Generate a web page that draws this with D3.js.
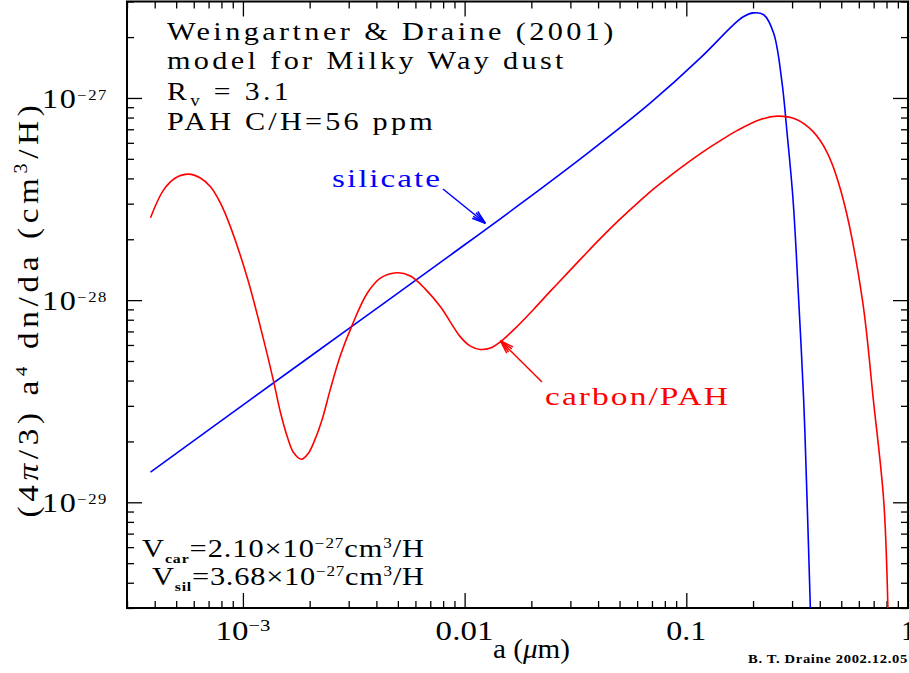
<!DOCTYPE html>
<html><head><meta charset="utf-8">
<script src="https://cdn.jsdelivr.net/npm/d3@7"></script>
<style>
body{margin:0;background:#fff}
svg{display:block}
text{font-family:"Liberation Serif","DejaVu Serif",serif}
</style>
</head><body>
<svg id="c" width="909" height="673"></svg>
<script>
// ---- data (grain radius a in micron, (4pi/3) a^4 dn/da in cm^3/H) ----
const siliA = [3.83e-4, 1.081e-3, 3.055e-3, 8.63e-3, 1.785e-2, 3.69e-2, 6.89e-2, 0.1158, 0.1631, 0.1816, 0.2008, 0.2234, 0.2478, 0.2704, 0.2849, 0.3031, 0.3213, 0.3384, 0.3506, 0.3629];
const siliV = [1.41e-29, 3.22e-29, 7.33e-29, 1.670e-28, 2.99e-28, 5.46e-28, 9.45e-28, 1.578e-27, 2.30e-27, 2.53e-27, 2.635e-27, 2.58e-27, 2.09e-27, 1.183e-27, 6.68e-28, 3.13e-28, 1.0e-28, 3.20e-29, 1.02e-29, 2.92e-30];
const carbA = [3.83e-4, 4.38e-4, 4.96e-4, 5.68e-4, 6.43e-4, 7.14e-4, 7.92e-4, 8.78e-4, 1.044e-3, 1.241e-3, 1.377e-3, 1.476e-3, 1.588e-3, 1.689e-3, 1.836e-3, 1.974e-3, 2.123e-3, 2.284e-3, 2.48e-3, 2.754e-3, 3.11e-3, 3.63e-3, 4.17e-3, 4.96e-3, 5.69e-3, 6.65e-3, 7.78e-3, 9.57e-3, 1.062e-2, 1.178e-2, 1.307e-2, 1.450e-2, 1.695e-2, 2.05e-2, 2.438e-2, 2.909e-2, 3.436e-2, 4.10e-2, 4.94e-2, 6.02e-2, 7.10e-2, 8.48e-2, 0.1012, 0.1194, 0.1425, 0.170, 0.2159, 0.2576, 0.3106, 0.3706, 0.433, 0.511, 0.623, 0.698, 0.777, 0.812];
const carbV = [2.555e-28, 3.50e-28, 4.02e-28, 4.20e-28, 4.02e-28, 3.64e-28, 3.02e-28, 2.31e-28, 1.30e-28, 6.34e-29, 3.94e-29, 2.79e-29, 2.10e-29, 1.768e-29, 1.633e-29, 1.748e-29, 2.07e-29, 2.60e-29, 3.63e-29, 5.34e-29, 7.52e-29, 1.079e-28, 1.285e-28, 1.365e-28, 1.315e-28, 1.134e-28, 9.27e-29, 6.58e-29, 5.92e-29, 5.70e-29, 5.79e-29, 6.22e-29, 7.27e-29, 9.02e-29, 1.108e-28, 1.36e-28, 1.651e-28, 2.02e-28, 2.472e-28, 3.02e-28, 3.543e-28, 4.13e-28, 4.776e-28, 5.43e-28, 6.15e-28, 6.91e-28, 7.82e-28, 8.13e-28, 7.87e-28, 6.87e-28, 5.34e-28, 3.13e-28, 1.0e-28, 3.20e-29, 1.02e-29, 2.92e-30];

const xMajor = [1e-3, 0.01, 0.1, 1];
const xTickLabels = [["10", "\u22123"], ["0.01", ""], ["0.1", ""], ["1", ""]];
const yMajor = [1e-27, 1e-28, 1e-29];
const yTickLabels = [["10", "\u221227"], ["10", "\u221228"], ["10", "\u221229"]];

const infoLines = ["Weingartner & Draine (2001)", "model for Milky Way dust", "R|V| = 3.1", "PAH C/H=56 ppm"];
const volCar = ["V", "car", "=2.10\u00d710", "\u221227", "cm", "3", "/H"];
const volSil = ["V", "sil", "=3.68\u00d710", "\u221227", "cm", "3", "/H"];

// ---- scales ----
const svg = d3.select("#c");
const L = 127, R = 908, T = 1.5, B = 608;
const x = d3.scaleLog().domain([3e-4, 1]).range([L, R]);
const y = d3.scaleLog().domain([3e-30, 3e-27]).range([B, T]);

svg.append("defs").append("clipPath").attr("id", "clip")
  .append("rect").attr("x", L).attr("y", T).attr("width", R - L).attr("height", B - T);

// ---- helpers ----
function rich(parent, px, py, parts, size) {
  const t = parent.append("text").attr("x", px).attr("y", py).attr("font-size", size);
  let cur = 0;
  parts.forEach(p => {
    const off = p.dy || 0;
    const s = t.append("tspan").text(p.t).attr("dy", off - cur);
    cur = off;
    if (p.size) s.attr("font-size", p.size);
    if (p.bold) s.attr("font-weight", "bold");
    if (p.italic) s.attr("font-style", "italic");
  });
  return t;
}
function fit(t, x0, w, maxS) {
  maxS = maxS || 1.22;
  let bw = t.node().getBBox().width;
  const n = Math.max(1, t.text().length - 1);
  if (w / bw > maxS) {
    t.attr("letter-spacing", ((w / maxS - bw) / n).toFixed(2));
    bw = t.node().getBBox().width;
  }
  const sx = w / bw;
  t.attr("transform", `translate(${x0},0) scale(${sx},1) translate(${-x0},0)`);
  return t;
}

// ---- axes (ticks inward on all four sides) ----
const minorX = x.ticks().filter(v => !xMajor.some(m => Math.abs(m - v) / m < 1e-6));
const minorY = y.ticks().filter(v => !yMajor.some(m => Math.abs(m - v) / m < 1e-6));
function axisG(gen, tr) {
  const g = svg.append("g").attr("transform", tr).call(gen);
  g.select(".domain").remove();
  g.selectAll("line").attr("stroke", "#000").attr("stroke-width", 1.3);
  return g;
}
axisG(d3.axisBottom(x).tickValues(minorX).tickSize(-7).tickFormat(""), `translate(0,${B})`);
axisG(d3.axisBottom(x).tickValues(xMajor).tickSize(-15).tickFormat(""), `translate(0,${B})`);
axisG(d3.axisTop(x).tickValues(minorX).tickSize(-7).tickFormat(""), `translate(0,${T})`);
axisG(d3.axisTop(x).tickValues(xMajor).tickSize(-15).tickFormat(""), `translate(0,${T})`);
axisG(d3.axisLeft(y).tickValues(minorY).tickSize(-7).tickFormat(""), `translate(${L},0)`);
axisG(d3.axisLeft(y).tickValues(yMajor).tickSize(-15).tickFormat(""), `translate(${L},0)`);
axisG(d3.axisRight(y).tickValues(minorY).tickSize(-7).tickFormat(""), `translate(${R},0)`);
axisG(d3.axisRight(y).tickValues(yMajor).tickSize(-15).tickFormat(""), `translate(${R},0)`);

svg.append("rect").attr("x", L).attr("y", T).attr("width", R - L).attr("height", B - T)
  .attr("fill", "none").attr("stroke", "#000").attr("stroke-width", 2);

// tick labels
const xw = [55, 58, 40, 12];
xMajor.forEach((v, i) => {
  const [a, s] = xTickLabels[i];
  const parts = [{ t: a }];
  if (s) parts.push({ t: s, dy: -9, size: 17 });
  const t = rich(svg, x(v), 640, parts, 27).attr("text-anchor", "middle");
  if (i < 3) fit(t, x(v), xw[i]);
});
yMajor.forEach((v, i) => {
  const [a, s] = yTickLabels[i];
  const t = rich(svg, 108, y(v) + 10, [{ t: a }, { t: s, dy: -8, size: 14 }], 27).attr("text-anchor", "end");
  fit(t, 108, 66);
});

// ---- curves ----
const line = d3.line().x(d => x(d[0])).y(d => y(d[1])).curve(d3.curveCatmullRom.alpha(0.5));
const plot = svg.append("g").attr("clip-path", "url(#clip)");
plot.append("path").datum(siliA.map((a, i) => [a, siliV[i]]))
  .attr("d", line).attr("fill", "none").attr("stroke", "#0000ff").attr("stroke-width", 1.6);
plot.append("path").datum(carbA.map((a, i) => [a, carbV[i]]))
  .attr("d", line).attr("fill", "none").attr("stroke", "#ff0000").attr("stroke-width", 1.6);

// ---- annotation block ----
const info = svg.append("g");
const infoY = [40, 69, 100, 130];
const infoW = [450, 400, 125, 269];
infoLines.forEach((s, i) => {
  let parts;
  if (s.includes("|")) {
    const p = s.split("|");
    parts = [{ t: p[0] }, { t: p[1].toLowerCase(), dy: 6, size: 16 }, { t: p[2] }];
  } else parts = [{ t: s }];
  const t = rich(info, 167, infoY[i], parts, 25);
  fit(t, 167, infoW[i]);
});

// ---- curve labels with arrows ----
function arrow(color, x1, y1, x2, y2) {
  const g = svg.append("g").attr("stroke", color).attr("stroke-width", 1.5).attr("fill", "none");
  g.append("line").attr("x1", x1).attr("y1", y1).attr("x2", x2).attr("y2", y2);
  const ang = Math.atan2(y2 - y1, x2 - x1), hl = 14, ha = 0.32;
  [-ha, 0.5 * -ha, 0.5 * ha, ha].forEach(d => {
    g.append("line").attr("x1", x2).attr("y1", y2)
      .attr("x2", x2 - hl * Math.cos(ang + d)).attr("y2", y2 - hl * Math.sin(ang + d));
  });
}
const sl = rich(svg, 332, 187, [{ t: "silicate" }], 26).attr("fill", "#0000ff");
fit(sl, 332, 110, 1.3);
arrow("#0000ff", 443, 189, x(0.0124), y(2.4e-28));
const cl = rich(svg, 545, 405, [{ t: "carbon/PAH" }], 26).attr("fill", "#ff0000");
fit(cl, 545, 185, 1.3);
arrow("#ff0000", 542, 382, x(0.0145), y(6.3e-29));

// ---- volumes ----
function volParts(v) {
  return [{ t: v[0] }, { t: v[1], dy: 6, size: 13, bold: true }, { t: v[2] },
    { t: v[3], dy: -9, size: 14 }, { t: v[4] }, { t: v[5], dy: -9, size: 14 }, { t: v[6] }];
}
fit(rich(svg, 142, 557, volParts(volCar), 25), 142, 283);
fit(rich(svg, 152, 585, volParts(volSil), 25), 152, 273);

// ---- axis titles ----
const xl = rich(svg, 493, 658, [{ t: "a (" }, { t: "\u03bc", italic: true }, { t: "m)" }], 27);
fit(xl, 493, 77);
const yg = svg.append("g").attr("transform", "translate(38,309) rotate(-90)");
const yl = rich(yg, 0, 0, [{ t: "(4" }, { t: "\u03c0", italic: true }, { t: "/3) a" },
  { t: "4", dy: -11, size: 17 }, { t: " dn/da (cm" }, { t: "3", dy: -11, size: 18 }, { t: "/H)" }], 30)
  .attr("text-anchor", "middle");
fit(yl, 0, 417, 1.12);

// credit
const cr = svg.append("text").attr("x", 748).attr("y", 663).attr("font-size", 12)
  .attr("font-weight", "bold").text("B. T. Draine  2002.12.05");
fit(cr, 748, 160);
</script>
</body></html>
